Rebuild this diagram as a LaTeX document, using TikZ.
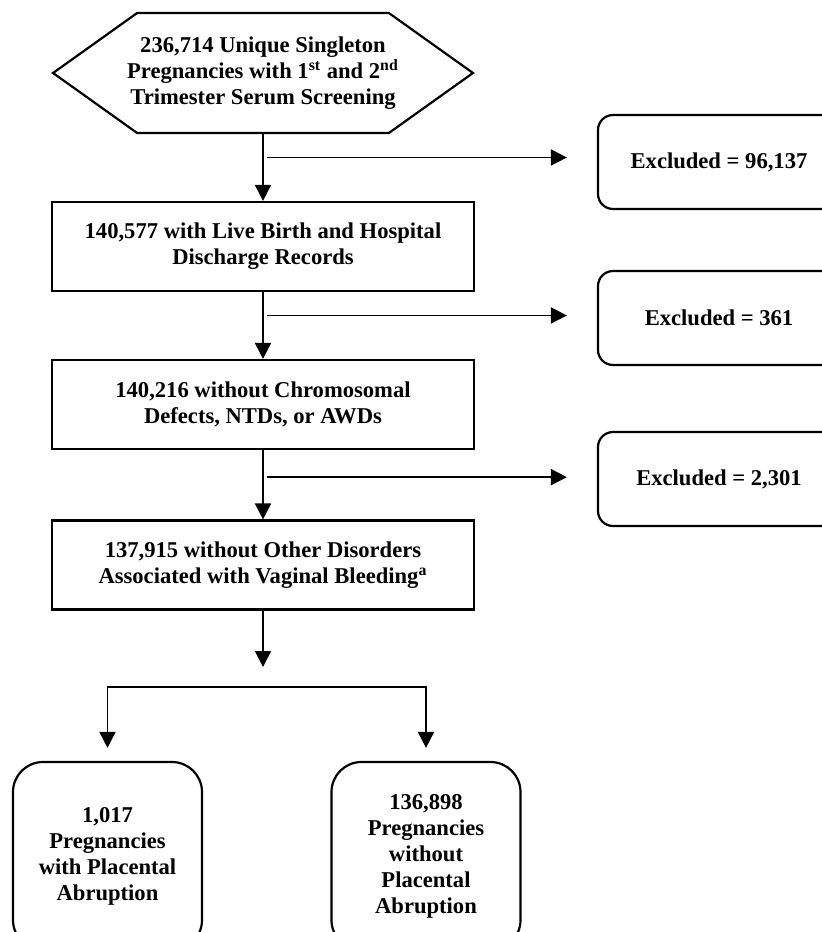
\documentclass[tikz,border=0pt]{standalone}
\usepackage{fontspec}
\setmainfont{Liberation Serif}
\usetikzlibrary{arrows.meta, positioning, calc, shapes.symbols}
\newcommand{\FlowFont}{\fontsize{11.3pt}{13pt}\selectfont\bfseries}
\tikzset{
  every picture/.style={line width=1.1pt},
  every node/.style={font=\FlowFont, align=center},
  startbox/.style={draw, signal, signal to=west and east, signal pointer angle=71,
    minimum height=60pt, inner xsep=-5pt, inner ysep=0pt},
  procbox/.style={draw, rectangle, minimum width=211pt, minimum height=44.5pt},
  exclbox/.style={draw, rounded corners=7.5pt, minimum width=121pt, minimum height=47pt},
  resbox/.style={draw, rounded corners=15pt, minimum width=94.5pt, minimum height=94pt},
  arr/.style={-{Triangle[length=8pt, width=8pt]}, line width=0.9pt}
}

\begin{document}
\begin{tikzpicture}[x=0.5pt, y=-0.5pt]
    \useasboundingbox (0,0) rectangle (822,932);

    \node [startbox] (start) at (263,73) {236,714 Unique Singleton\\Pregnancies with 1\textsuperscript{st} and 2\textsuperscript{nd}\\Trimester Serum Screening};
    \node [procbox] (live) at (263,246.5) {140,577 with Live Birth and Hospital\\Discharge Records};
    \node [procbox] (chrom) at (263,404.5) {140,216 without Chromosomal\\Defects, NTDs, or AWDs};
    \node [procbox] (other) at (263,565) {137,915 without Other Disorders\\Associated with Vaginal Bleeding\textsuperscript{a}};

    \node [exclbox] (ex1) at (719,162) {Excluded = 96,137};
    \node [exclbox] (ex2) at (719,318) {Excluded = 361};
    \node [exclbox] (ex3) at (719,479) {Excluded = 2,301};

    \node [resbox] (abr) at (107.5,856) {1,017\\Pregnancies\\with Placental\\Abruption};
    \node [resbox] (noabr) at (426,856) {136,898\\Pregnancies\\without\\Placental\\Abruption};

    \coordinate (c1) at ($(start.south)!0.35!(live.north)$);
    \coordinate (c2) at ($(live.south)!0.35!(chrom.north)$);
    \coordinate (c3) at ($(chrom.south)!0.39!(other.north)$);
    \coordinate (split) at (263,687);

    \draw[arr] (start.south) -- (live.north);
    \draw[arr] (live.south) -- (chrom.north);
    \draw[arr] (chrom.south) -- (other.north);

    \draw[arr, shorten <=2pt, shorten >=15pt] (c1) -- (c1 -| ex1.west);
    \draw[arr, shorten <=2pt, shorten >=15pt] (c2) -- (c2 -| ex2.west);
    \draw[arr, shorten <=2pt, shorten >=15pt] (c3) -- (c3 -| ex3.west);

    \draw[arr, shorten >=10pt] (other.south) -- (split);
    \draw[arr, shorten >=6.5pt] (split) -| (abr.north);
    \draw[arr, shorten >=6.5pt] (split) -| (noabr.north);
\end{tikzpicture}
\end{document}
